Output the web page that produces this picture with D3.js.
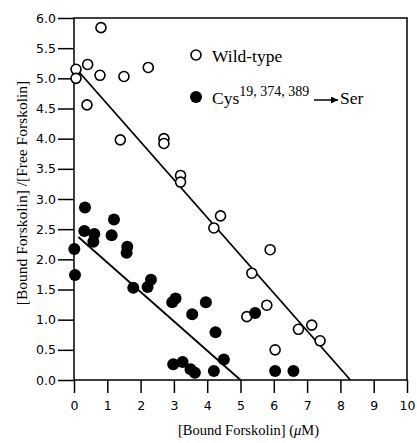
<!DOCTYPE html>
<html>
<head>
<meta charset="utf-8">
<script src="https://cdn.jsdelivr.net/npm/d3@7"></script>
<style>
  body { margin: 0; background: #fff; }
  svg { display: block; }
</style>
</head>
<body>
<div id="chart"></div>
<script>
// wild-type (open circles)
const wildX = [0.06, 0.06, 0.41, 0.81, 0.78, 1.5, 2.23, 0.39, 1.39, 2.7, 2.7, 3.2, 3.2, 4.4, 4.2, 5.89, 5.34, 5.79, 5.19, 6.74, 7.14, 7.39, 6.04];
const wildY = [5.15, 5.0, 5.23, 5.84, 5.05, 5.03, 5.18, 4.56, 3.98, 4.0, 3.92, 3.39, 3.28, 2.72, 2.52, 2.16, 1.77, 1.24, 1.05, 0.84, 0.91, 0.65, 0.5];
// Cys19,374,389 -> Ser mutant (filled circles)
const mutX = [0.01, 0.03, 0.33, 0.31, 0.61, 0.58, 1.2, 1.13, 1.6, 1.58, 1.78, 2.31, 2.21, 2.95, 3.05, 3.96, 3.55, 4.25, 4.5, 2.98, 3.26, 3.5, 3.63, 4.2, 5.44, 6.04, 6.59];
const mutY = [2.17, 1.74, 2.86, 2.47, 2.42, 2.29, 2.66, 2.40, 2.21, 2.11, 1.53, 1.66, 1.54, 1.29, 1.35, 1.29, 1.09, 0.79, 0.34, 0.26, 0.30, 0.18, 0.12, 0.15, 1.11, 0.15, 0.15];
// regression lines [x1, y1, x2, y2]
const wildFit = [0, 5.2, 8.3, 0];
const mutFit = [0.13, 2.37, 5.0, 0];

const xTicks = d3.range(0, 11, 1);
const yTicks = d3.range(0, 6.01, 0.5);

const W = 417, H = 443;
const margin = {top: 18, right: 10, bottom: 63, left: 74};

const svg = d3.select('#chart').append('svg')
    .attr('width', W)
    .attr('height', H);

const x = d3.scaleLinear().domain([0, 10]).range([margin.left, W - margin.right]);
const y = d3.scaleLinear().domain([0, 6]).range([H - margin.bottom, margin.top]);

// frame
svg.append('rect')
    .attr('x', x(0)).attr('y', y(6))
    .attr('width', x(10) - x(0)).attr('height', y(0) - y(6))
    .attr('fill', 'none').attr('stroke', '#000').attr('stroke-width', 1.5);

// axes
const xAxis = svg.append('g')
    .attr('transform', `translate(0,${y(0)})`)
    .call(d3.axisBottom(x).tickValues(xTicks).tickSize(13).tickPadding(8).tickFormat(d3.format('d')));
const yAxis = svg.append('g')
    .attr('transform', `translate(${x(0)},0)`)
    .call(d3.axisLeft(y).tickValues(yTicks).tickSize(16).tickPadding(2).tickFormat(d3.format('.1f')));

[xAxis, yAxis].forEach(g => {
    g.select('.domain').remove();
    g.selectAll('line').attr('stroke', '#000').attr('stroke-width', 1.5);
    g.selectAll('text')
        .attr('fill', '#000')
        .style('font-family', '"DejaVu Sans", Verdana, sans-serif')
        .style('font-size', '12.5px');
});

// fit lines
[wildFit, mutFit].forEach(f => {
    svg.append('line')
        .attr('x1', x(f[0])).attr('y1', y(f[1]))
        .attr('x2', x(f[2])).attr('y2', y(f[3]))
        .attr('stroke', '#000').attr('stroke-width', 1.8);
});

// points
svg.append('g').selectAll('circle')
    .data(d3.range(wildX.length))
    .enter().append('circle')
    .attr('cx', i => x(wildX[i]))
    .attr('cy', i => y(wildY[i]))
    .attr('r', 5)
    .attr('fill', '#fff')
    .attr('stroke', '#000')
    .attr('stroke-width', 1.6);

svg.append('g').selectAll('circle')
    .data(d3.range(mutX.length))
    .enter().append('circle')
    .attr('cx', i => x(mutX[i]))
    .attr('cy', i => y(mutY[i]))
    .attr('r', 6)
    .attr('fill', '#000');

// axis titles
const serif = '"Liberation Serif", "Times New Roman", serif';
svg.append('text')
    .attr('x', (x(0) + x(10)) / 2 + 8)
    .attr('y', 435)
    .attr('text-anchor', 'middle')
    .style('font-family', serif)
    .style('font-size', '14.5px')
    .html('[Bound Forskolin] (<tspan font-style="italic">μ</tspan>M)');

svg.append('text')
    .attr('transform', `translate(27,${(y(0) + y(6)) / 2 - 6}) rotate(-90)`)
    .attr('text-anchor', 'middle')
    .style('font-family', serif)
    .style('font-size', '15.5px')
    .text('[Bound Forskolin] /[Free Forskolin]');

// legend
const legend = svg.append('g').style('font-family', serif);
legend.append('circle')
    .attr('cx', 196).attr('cy', 55).attr('r', 5)
    .attr('fill', '#fff').attr('stroke', '#000').attr('stroke-width', 1.6);
legend.append('text')
    .attr('x', 212).attr('y', 62)
    .style('font-size', '17.5px')
    .text('Wild-type');
legend.append('circle')
    .attr('cx', 196).attr('cy', 97).attr('r', 6)
    .attr('fill', '#000');
const cys = legend.append('text')
    .attr('x', 212).attr('y', 104)
    .style('font-size', '17.5px');
cys.append('tspan').text('Cys');
cys.append('tspan').attr('dy', -8).style('font-size', '14px').text('19, 374, 389');

svg.append('defs').append('marker')
    .attr('id', 'arrow')
    .attr('viewBox', '0 -5 10 10')
    .attr('refX', 10).attr('refY', 0)
    .attr('markerWidth', 11).attr('markerHeight', 7)
    .attr('markerUnits', 'userSpaceOnUse')
    .attr('orient', 'auto')
    .append('path')
    .attr('d', 'M0,-5L10,0L0,5Z')
    .attr('fill', '#000');

legend.append('line')
    .attr('x1', 314).attr('y1', 100)
    .attr('x2', 338).attr('y2', 100)
    .attr('stroke', '#000').attr('stroke-width', 1.5)
    .attr('marker-end', 'url(#arrow)');
legend.append('text')
    .attr('x', 340).attr('y', 104)
    .style('font-size', '17.5px')
    .text('Ser');
</script>
</body>
</html>
